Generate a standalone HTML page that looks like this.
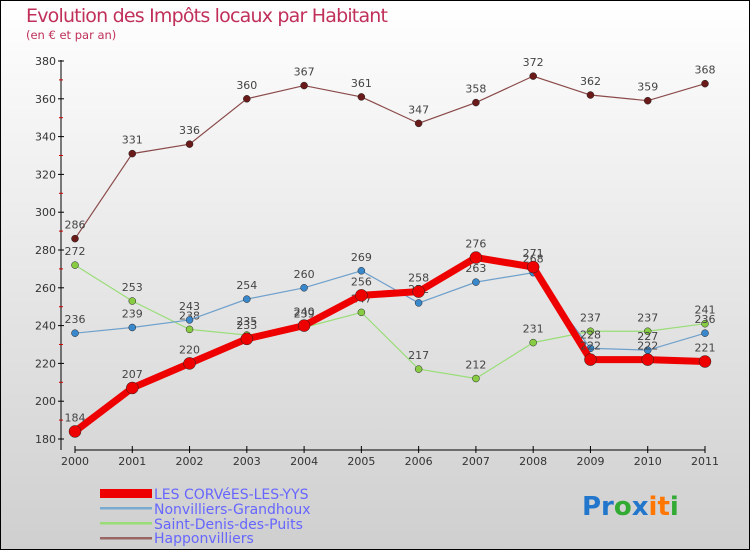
<!DOCTYPE html>
<html><head><meta charset="utf-8"><style>
body{margin:0}
#c{width:750px;height:550px;position:relative;background:linear-gradient(#ffffff,#cfcfcf);font-family:"DejaVu Sans","Liberation Sans",sans-serif;box-sizing:border-box;border:1px solid #000;overflow:hidden}
text{font-family:"DejaVu Sans","Liberation Sans",sans-serif}
</style></head><body>
<div id="c">
<svg id="s" width="750" height="550" style="position:absolute;left:-1px;top:-1px">
<text x="26" y="22" font-size="19" fill="#c0305a" textLength="362">Evolution des Impôts locaux par Habitant</text>
<text x="26" y="39" font-size="11.5" fill="#c0305a">(en € et par an)</text>
<g id="axes"></g><g id="series"></g>
<g font-size="14" fill="#6666ff">
<rect x="100" y="489" width="52" height="9" fill="#ee0000"/>
<text x="154" y="499">LES CORVéES-LES-YYS</text>
<rect x="100" y="507" width="52" height="2.5" fill="#7aaad0"/>
<text x="154" y="514">Nonvilliers-Grandhoux</text>
<rect x="100" y="522" width="52" height="2.5" fill="#99dd77"/>
<text x="154" y="529">Saint-Denis-des-Puits</text>
<rect x="100" y="537" width="52" height="2.5" fill="#996666"/>
<text x="154" y="543">Happonvilliers</text>
</g>
<text x="582" y="515" font-size="26" font-weight="bold"><tspan fill="#2277cc">Pr</tspan><tspan fill="#33aa33">o</tspan><tspan fill="#2277cc">x</tspan><tspan fill="#ff7700">it</tspan><tspan fill="#33aa33">i</tspan></text>
</svg>
</div>
<script>
const years=["2000","2001","2002","2003","2004","2005","2006","2007","2008","2009","2010","2011"];
const yTicks=[180,200,220,240,260,280,300,320,340,360,380];
const corvees=[184,207,220,233,240,256,258,276,271,222,222,221];
const nonvilliers=[236,239,243,254,260,269,252,263,268,228,227,236];
const saintDenis=[272,253,238,235,239,247,217,212,231,237,237,241];
const happon=[286,331,336,360,367,361,347,358,372,362,359,368];
const NS="http://www.w3.org/2000/svg";
function xS(i){return 75+i*(705-75)/11;}
function yS(v){return 439-(v-180)*(378/200);}
function mk(t,a,p){const e=document.createElementNS(NS,t);for(const k in a)e.setAttribute(k,a[k]);p.appendChild(e);return e;}
const ax=document.getElementById('axes');
const yl=mk('line',{x1:61,y1:60,x2:61,y2:450,stroke:'#000'},ax);


const xl=mk('line',{x1:75,y1:450,x2:705,y2:450,stroke:'#000'},ax);


yTicks.forEach((v,i)=>{
 mk('line',{x1:58,y1:yS(v),x2:64,y2:yS(v),stroke:'#000'},ax);
 if(i<yTicks.length-1) mk('line',{x1:59,y1:yS(v+10),x2:63,y2:yS(v+10),stroke:'#cc0000'},ax);
 const t=mk('text',{x:56,y:yS(v)+4,'text-anchor':'end','font-size':11,fill:'#333'},ax);
 t.textContent=v;
 
 
});
years.forEach((y,i)=>{
 mk('line',{x1:xS(i),y1:446,x2:xS(i),y2:453,stroke:'#000'},ax);
 const t=mk('text',{x:xS(i),y:465,'text-anchor':'middle','font-size':11,fill:'#333'},ax);
 t.textContent=y;
 
 
});
const sg=document.getElementById('series');
function draw(vals,name,col,dot,w,r){
 const g=mk('g',{},sg);
 
 
 const pl=mk('polyline',{points:vals.map((v,i)=>xS(i)+','+yS(v)).join(' '),fill:'none',stroke:col,'stroke-width':w},g);
 
 
 vals.forEach((v,i)=>{
  const c=mk('circle',{cx:xS(i),cy:yS(v),r:r,fill:dot,stroke:'#222','stroke-width':0.5},g);
  
  
  const t=mk('text',{x:xS(i),y:yS(v)-10,'text-anchor':'middle','font-size':11,fill:'#444'},g);
  t.textContent=v;
  
  
 });
}
draw(happon,'happonvilliers','#8b4a4a','#6b1a1a',1.2,3.5);
draw(saintDenis,'saint-denis','#99dd77','#88cc44',1.2,3.5);
draw(nonvilliers,'nonvilliers','#6fa0cc','#3a88cc',1.2,3.5);
draw(corvees,'les-corvees','#ee0000','#ee0000',7,6);
</script>
</body></html>
